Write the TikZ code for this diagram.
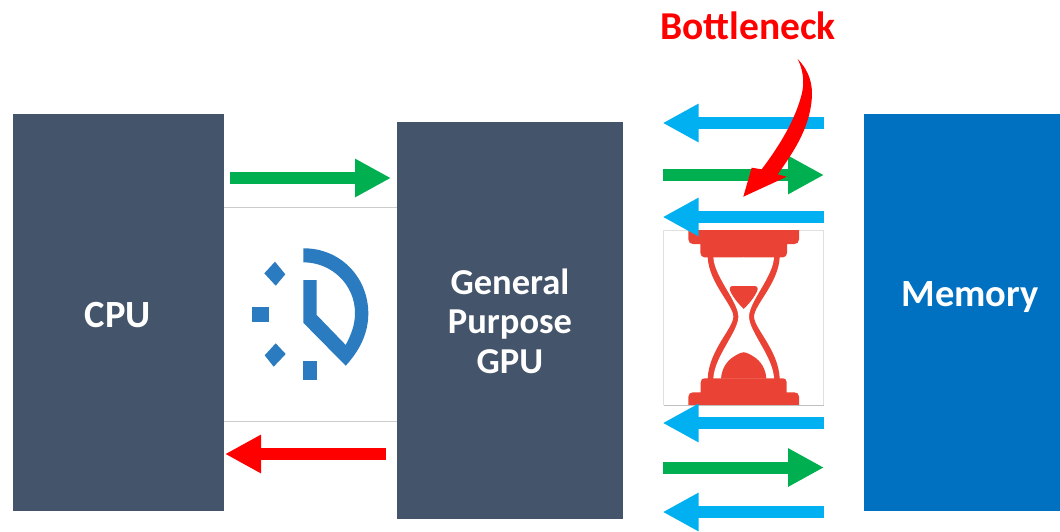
\documentclass[tikz,border=0pt]{standalone}
\usepackage{fontspec}
\setmainfont{Carlito}
\usetikzlibrary{arrows.meta}
\definecolor{slatebox}{HTML}{44546A}
\definecolor{membox}{HTML}{0070C0}
\definecolor{arrblue}{HTML}{00B0F0}
\definecolor{arrgreen}{HTML}{00B050}
\definecolor{clockblue}{HTML}{2B7BC0}
\definecolor{glassred}{HTML}{EA4335}
\tikzset{
  panel/.style={fill=#1,draw=none,inner sep=0pt,outer sep=0pt},
  flow/.style={draw=#1,line width=12pt,-{Triangle[length=36pt,width=36pt]}},
  hair/.style={draw=black!20,line width=1pt}
}
\begin{document}
\begin{tikzpicture}[x=1pt,y=-1pt]
\useasboundingbox (0,0) rectangle (1060,531);
\fill[white] (0,0) rectangle (1060,531);
\node[panel=slatebox,minimum width=211pt,minimum height=397pt] (cpu) at (118.5,312.5) {};
\node[panel=slatebox,minimum width=226pt,minimum height=397pt] (gpu) at (510,320.5) {};
\node[panel=membox,minimum width=196pt,minimum height=397pt] (mem) at (962,312.5) {};
\node[text=white,font=\bfseries\fontsize{38.5}{40}\selectfont] (cpulabel) at (118,315) {CPU};
\node[text=white,font=\bfseries\fontsize{36.5}{39.5}\selectfont,align=center] (gpulabel) at (510,321) {General\\Purpose\\GPU};
\node[text=white,font=\bfseries\fontsize{38.5}{44}\selectfont] (memlabel) at (970,297) {Memory};
\node[text=red,font=\bfseries\fontsize{39.5}{44}\selectfont] (neck) at (748,26) {Bottleneck};
% clock panel
\draw[hair] (224,207.5) -- (397,207.5);
\draw[hair] (224,421.5) -- (397,421.5);
\fill[clockblue] (303.3,248.3) .. controls (340,248) and (368.3,277) .. (368.3,313.5)
  .. controls (368.3,333) and (360,350) .. (345.7,365.7)
  -- (303.3,322.7) -- (303.3,280) -- (316.7,280) -- (316.7,315) -- (345.7,345)
  .. controls (351,335) and (355,325) .. (355,313)
  .. controls (355,285) and (332,262.3) .. (303.3,262.3) -- cycle;
\fill[clockblue] (252,306.7) rectangle (269,321.7);
\fill[clockblue] (303.3,361.3) rectangle (316.7,380.3);
\fill[clockblue] (275,261.7) -- (285.3,274.3) -- (275.7,285.7) -- (264.3,273.3) -- cycle;
\fill[clockblue] (275.7,343.3) -- (285.7,354) -- (273.7,366.7) -- (264.7,355.3) -- cycle;
% hourglass
\draw[black!12,line width=1pt] (663.5,405) -- (663.5,230.5) -- (823.5,230.5) -- (823.5,405);
\draw[black!25,line width=1pt] (663.5,405) -- (823.5,405);
\begin{scope}[shift={(743.7,220)},x=0.3333pt,y=-0.3333pt]
  \foreach \s in {1,-1}{
    \begin{scope}[xscale=\s]
    \fill[glassred] (1,30) -- (-166,30) -- (-166,58) .. controls (-166,67) and (-160,72) .. (-152,72)
      -- (-130,72) -- (-130,98) .. controls (-130,106) and (-125,112) .. (-118,112) -- (-108,112)
      .. controls (-104,190) and (-31,255) .. (-31,290) .. controls (-31,325) and (-104,390) .. (-108,475)
      -- (-118,475) .. controls (-125,475) and (-129,480) .. (-129,488) -- (-129,517) -- (-152,517)
      .. controls (-160,517) and (-166,522) .. (-166,530) -- (-166,555) -- (1,555) -- cycle;
    \end{scope}
  }
  \foreach \s in {1,-1}{
    \begin{scope}[xscale=\s]
    \fill[white] (1,112) -- (-91,112) .. controls (-88,170) and (-16,245) .. (-16,290)
      .. controls (-16,335) and (-88,410) .. (-91,475) -- (1,475) -- cycle;
    \end{scope}
  }
  \foreach \s in {1,-1}{
    \begin{scope}[xscale=\s]
    \fill[glassred] (1,198) -- (-32,198) .. controls (-42,198) and (-44,206) .. (-40,214)
      .. controls (-32,232) and (-14,254) .. (1,267) -- cycle;
    \fill[glassred] (1,397) .. controls (-10,397) and (-20,404) .. (-30,410)
      .. controls (-50,422) and (-66,445) .. (-68,476) -- (1,476) -- cycle;
    \end{scope}
  }
\end{scope}
% block arrows
\coordinate (c1a) at (230,178); \coordinate (c1b) at (391,178);
\coordinate (c2a) at (385.7,454); \coordinate (c2b) at (225,454);
\coordinate (m1a) at (823.7,123); \coordinate (m1b) at (662.6,123);
\coordinate (m2a) at (663,175); \coordinate (m2b) at (824,175);
\coordinate (m3a) at (823.7,217); \coordinate (m3b) at (662.6,217);
\coordinate (m4a) at (823.7,423); \coordinate (m4b) at (662.6,423);
\coordinate (m5a) at (663,467.5); \coordinate (m5b) at (824,467.5);
\coordinate (m6a) at (823.7,512); \coordinate (m6b) at (662.6,512);
\draw[flow=arrgreen] (c1a) -- (c1b);
\draw[flow=red] (c2a) -- (c2b);
\draw[flow=arrblue] (m1a) -- (m1b);
\draw[flow=arrgreen] (m2a) -- (m2b);
\draw[flow=arrblue] (m3a) -- (m3b);
\draw[flow=arrblue] (m4a) -- (m4b);
\draw[flow=arrgreen] (m5a) -- (m5b);
\draw[flow=arrblue] (m6a) -- (m6b);
% curved callout arrow
\fill[red] (797.7,59) .. controls (810,72) and (813,85) .. (811.7,100)
  .. controls (809,128) and (795,150) .. (777.7,174.3)
  -- (786.7,176.7) -- (743.3,196.7) -- (751.7,167.7) -- (761.7,169.3)
  .. controls (780,145) and (795,120) .. (801.5,95)
  .. controls (805,82) and (803,70) .. (797.7,59) -- cycle;
\end{tikzpicture}
\end{document}
